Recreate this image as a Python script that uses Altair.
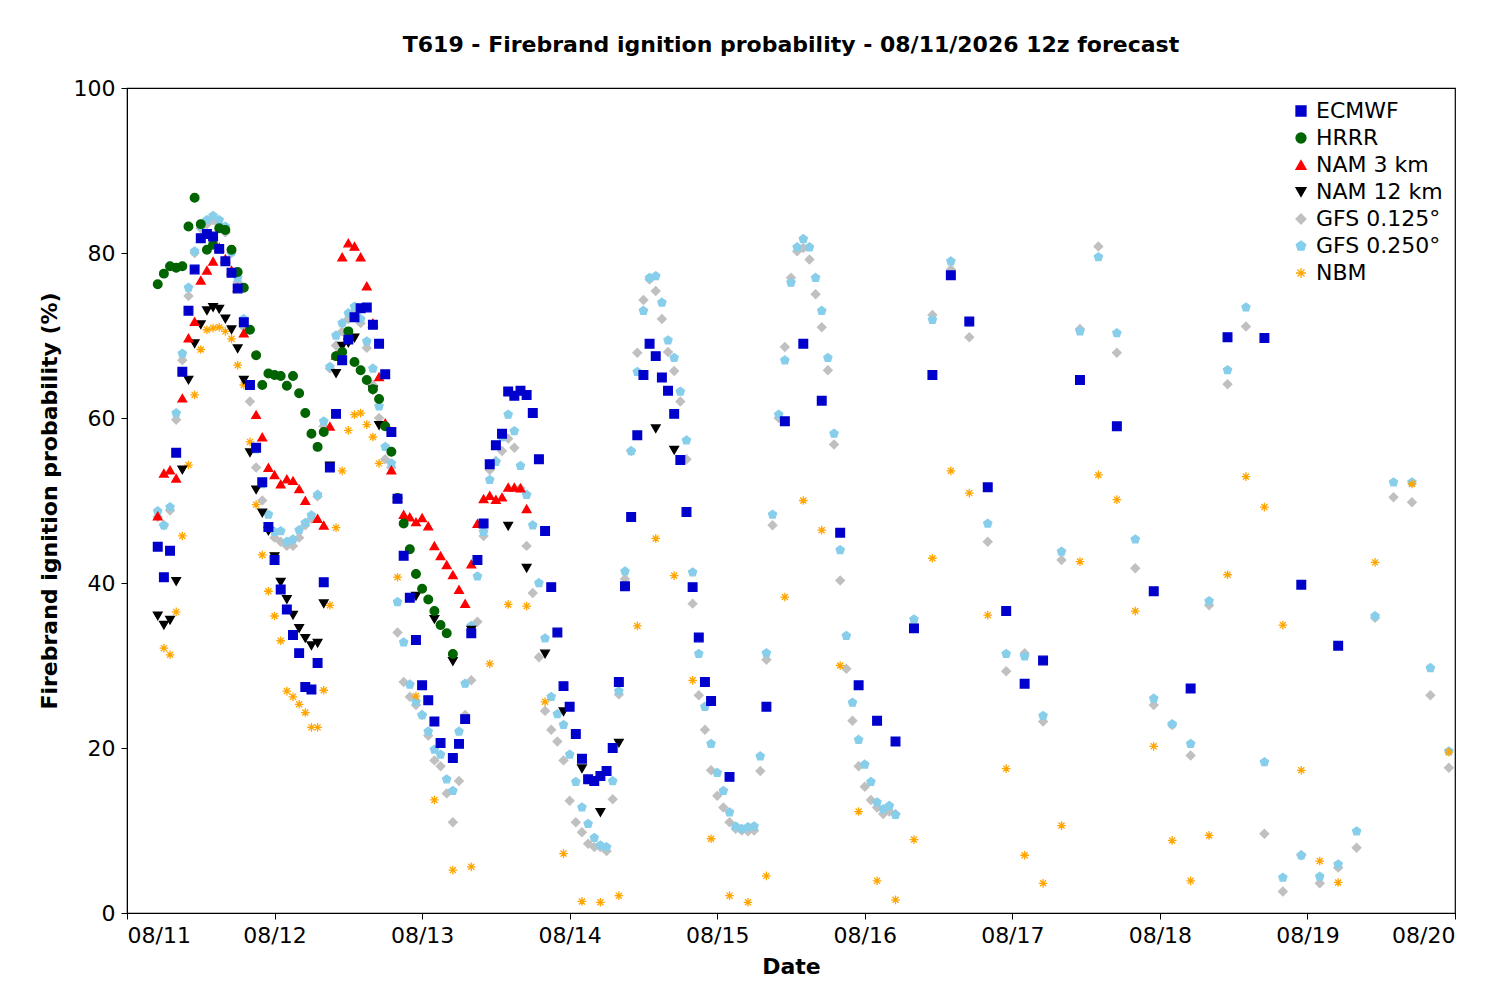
import altair as alt
import pandas as pd

series_names = ["ECMWF", "HRRR", "NAM 3 km", "NAM 12 km", "GFS 0.125°", "GFS 0.250°", "NBM"]
colors = ["#0000cc", "#006400", "#ff0000", "#000000", "#c0c0c0", "#87ceeb", "#ffa500"]
pentagon = "M0,-1L0.951,-0.309L0.588,0.809L-0.588,0.809L-0.951,-0.309Z"
asterisk = "M0,-1L0,1M-1,0L1,0M-0.7,-0.7L0.7,0.7M-0.7,0.7L0.7,-0.7"
shapes = ["square", "circle", "triangle-up", "triangle-down", "diamond", pentagon, asterisk]
day_labels = ["08/11", "08/12", "08/13", "08/14", "08/15", "08/16", "08/17", "08/18", "08/19", "08/20"]

# ECMWF: hours and values
ecmwf_h = list(range(5, 52)) + list(range(53, 96)) + [98, 104, 107, 110, 113, 116, 119, 122, 125, 128, 131, 134, 137, 140, 143, 146, 149, 155, 161, 167, 173, 179, 185, 191, 197]
ecmwf_v = [44.4, 40.7, 43.9, 55.8, 65.6, 73, 78, 81.8, 82.3, 82, 80.5, 79, 77.6, 75.7, 71.6,
           64, 56.4, 52.2, 46.8, 42.8, 39.2, 36.8, 33.7, 31.5, 27.4, 27.1, 30.3, 40.1, 54, 60.5, 67, 69.5, 72.2, 73.3, 73.4, 71.3, 69, 65.3, 58.3, 50.2, 43.3,
           38.2, 33.1, 27.6, 25.8, 23.2, 20.6,
           18.8, 20.5, 23.5, 33.9, 42.8, 47.2, 54.4, 56.7, 58.1, 63.2, 62.7, 63.3, 62.8, 60.6, 55, 46.3, 39.5, 34, 27.5, 25, 21.7, 18.7, 16.2, 16, 16.6, 17.2, 20, 28, 39.6, 48, 57.9, 65.2, 69, 67.5, 64.9, 63.3, 60.5, 54.9, 48.6, 39.5, 33.4, 28, 25.7,
           16.5, 25, 59.6, 69, 62.1, 46.1, 27.6, 23.3, 20.8, 34.5, 65.2, 77.3, 71.7, 51.6, 36.6, 27.8, 30.6, 64.6, 59, 39, 27.2, 69.8, 69.7, 39.8, 32.4]

hrrr_h = list(range(5, 33)) + list(range(34, 54))
hrrr_v = [76.2, 77.5, 78.4, 78.2, 78.4, 83.2, 86.7, 83.5, 80.4, 81, 83, 82.8, 80.4, 77.7, 75.8, 70.7, 67.6, 64, 65.4, 65.2, 65.1, 63.9, 65.1, 63, 60.6, 58.1, 56.5, 58.3,
          67.5, 68, 70.5, 66.8, 65.8, 64.6, 63.5, 62.3, 59, 55.9, 50.3, 47.2, 44.1, 41.1, 39.3, 38, 36.6, 34.9, 33.9, 31.4]

nam3_h = list(range(5, 20)) + list(range(21, 30)) + list(range(31, 66))
nam3_v = [48.1, 53.3, 53.7, 52.7, 62.4, 69.7, 71.7, 76.7, 77.9, 79, 80.7, 79.3, 77.9, 75.8, 70.3,
          60.4, 57.7, 54, 53.1, 52, 52.6, 52.4, 51.4, 50,
          47.8, 47, 59, 67.6, 79.5, 81.2, 80.8, 79.5, 76, 71.5, 65, 59.4, 53.7, 50.3,
          48.3, 48, 47.4, 47.9, 46.9, 44.5, 43.3, 42.2, 41, 39.2, 37.5, 42.3, 47.2, 50.2, 50.6, 50.1, 50.4, 51.6, 51.6, 51.5, 49]

nam12_h = list(range(5, 38)) + [40, 41, 47, 50, 53, 56, 62, 65, 68, 71, 74, 77, 80, 86, 89]
nam12_v = [36, 34.9, 35.5, 40.2, 53.7, 64.6, 69, 71.3, 73, 73.4, 73.2, 72, 70.7, 68.4, 64.6, 55.8, 51.3, 48.5, 46.3, 43.2, 40.1, 38, 36.1, 34.5, 33.3, 32.4, 32.7, 37.5, 54.2, 65.4, 68.7, 69.1, 69.7,
           63.4, 59.1, 38.4, 35.6, 30.5, 34.3, 46.9, 41.8, 31.4, 24.4, 17.5, 12.2, 20.6, 58.7, 56.1]

gfs_h = list(range(5, 126)) + list(range(128, 216, 3))
gfs125_v = [48, 47, 48.8, 59.8, 67, 74.8, 80, 83, 83.5, 84, 83.5, 82.5, 80, 76.5, 71, 62, 54, 50, 46.5, 45.5, 45, 44.5, 44.5, 45.5, 47, 47.8, 50.5, 59, 66, 68.8,
            70.5, 72, 72.8, 71.5, 68.5, 64, 60, 55, 54, 34, 28, 26.2, 25.2, 24, 21.5, 18.5, 17.8, 14.5, 11, 16, 24, 28.2, 35.3, 45.7, 53.7, 54.8, 56, 57.5, 56.4, 51.5,
            44.5, 38.8, 31, 24.5, 22.2, 20.8, 18.5, 13.6, 11, 9.8, 8.4, 8, 8, 7.5, 13.8, 26.5, 40.5, 56, 67.9, 74.3, 76.8, 75.4, 72, 68, 65.7, 62, 55, 37.5, 26.4, 22.2,
            17.3, 14.2, 12.8, 11, 10.2, 10, 9.9, 10, 17.2, 30.7, 47, 60, 68.6, 77, 80.2, 80.6, 79.2, 75, 71, 65.8, 56.8, 40.3, 29.6, 23.3, 17.8, 15.3, 13.7, 12.8, 12, 12.3, 12,
            35, 72.5, 78, 69.8, 45, 29.3, 31.5, 23.2, 42.8, 70.8, 80.8, 67.9, 41.8, 25.2, 22.8, 19.1, 37.3, 64.1, 71.1, 9.6, 2.6, 7, 3.6, 5.5, 7.9, 35.8, 50.4, 49.8, 26.4, 17.6]
gfs250_v = [48.7, 47, 49.2, 60.6, 67.8, 75.8, 80.2, 83.3, 84, 84.5, 84, 83.2, 80.1, 77, 72, 64, 56.2, 52, 48.3, 46.2, 46.3, 45, 45.3, 46.4, 47.3, 48.2, 50.7, 59.6, 66.2, 70,
            71.5, 72.7, 73.5, 72, 69.3, 66, 61.4, 56.5, 54.5, 37.7, 32.8, 27.7, 25.6, 24, 22, 19.8, 19.2, 16.2, 14.8, 22, 27.8, 34.8, 40.8, 46.2, 52.5, 54.7, 57.7, 60.4, 58.4, 54.2,
            50.7, 47, 40, 33.3, 26.2, 24.1, 22.8, 19.2, 15.9, 12.8, 10.8, 9.1, 8.2, 8, 16, 26.9, 41.4, 56, 65.6, 73, 77, 77.2, 74, 69.4, 67.3, 63.2, 57.3, 41.3, 31.4, 25,
            20.5, 17, 14.8, 12.2, 10.5, 10.2, 10.4, 10.5, 19, 31.5, 48.3, 60.4, 67, 76.4, 80.7, 81.7, 80.7, 77, 73, 67.3, 58.1, 44, 33.6, 25.5, 21, 18, 15.9, 13.4, 12.6, 13, 11.9,
            35.6, 71.9, 79, 71.6, 47.2, 31.4, 31.1, 23.9, 43.8, 70.5, 79.5, 70.3, 45.3, 26, 22.9, 20.5, 37.8, 65.8, 73.4, 18.3, 4.3, 7, 4.4, 5.9, 9.9, 36, 52.2, 52.2, 29.7, 19.6]

nbm_h = list(range(6, 42)) + [44, 47, 50, 53, 56, 59, 62, 65, 68, 71, 74, 77, 80, 83, 86, 89, 92, 95, 98, 101, 104, 107, 110, 113, 116, 119, 122, 125, 128, 131, 134,
                              137, 140, 143, 146, 149, 152, 155, 158, 161, 164, 167, 170, 173, 176, 179, 182, 185, 188, 191, 194, 197, 203, 209, 215]
nbm_v = [32.1, 31.3, 36.5, 45.7, 54.3, 62.8, 68.3, 70.7, 70.9, 71, 70.5, 69.6, 66.4, 64, 57.1, 49.5, 43.4, 39, 36, 33, 26.9, 26.2, 25.3, 24.3, 22.5, 22.5, 27, 37.3,
         46.7, 53.6, 58.5, 60.4, 60.6, 59.2, 57.7, 54.5,
         40.7, 26.3, 13.7, 5.2, 5.6, 30.2, 37.4, 37.2, 25.6, 7.2, 1.4, 1.3, 2.1, 34.8, 45.4, 40.9, 28.2, 9, 2.1, 1.3, 4.5, 38.3, 50, 46.4, 30, 12.3, 3.9, 1.6,
         8.9, 43, 53.6, 50.9, 36.1, 17.5, 7, 3.6, 10.6, 42.6, 53.1, 50.1, 36.6, 20.2, 8.8, 3.9, 9.4, 41, 52.9, 49.2, 34.9, 17.3, 6.3, 3.7, 42.5, 52, 19.5]

frames = []
for name, hs, vs in [
    ("GFS 0.125°", gfs_h, gfs125_v),
    ("GFS 0.250°", gfs_h, gfs250_v),
    ("NBM", nbm_h, nbm_v),
    ("NAM 12 km", nam12_h, nam12_v),
    ("NAM 3 km", nam3_h, nam3_v),
    ("HRRR", hrrr_h, hrrr_v),
    ("ECMWF", ecmwf_h, ecmwf_v),
]:
    n = min(len(hs), len(vs))
    frames.append(pd.DataFrame({"hour": hs[:n], "prob": vs[:n], "series": name}))
df = pd.concat(frames, ignore_index=True)
order_map = {"GFS 0.125°": 0, "GFS 0.250°": 1, "NBM": 2, "NAM 12 km": 3, "NAM 3 km": 4, "HRRR": 5, "ECMWF": 6}
df["z"] = df["series"].map(order_map)

label_expr = "[" + ",".join("'" + d + "'" for d in day_labels) + "][round(datum.value/24)]"
font = "DejaVu Sans"

scale_c = alt.Scale(domain=series_names, range=colors)
chart = alt.Chart(df).mark_point(filled=True, size=75, strokeWidth=1.3, opacity=1).encode(
    x=alt.X("hour:Q", scale=alt.Scale(domain=[0, 216], nice=False),
            axis=alt.Axis(values=list(range(0, 217, 24)), labelExpr=label_expr, title="Date", grid=False)),
    y=alt.Y("prob:Q", scale=alt.Scale(domain=[0, 100]),
            axis=alt.Axis(values=list(range(0, 101, 20)), title="Firebrand ignition probability (%)", grid=False)),
    color=alt.Color("series:N", scale=scale_c, sort=series_names,
                    legend=alt.Legend(title=None, orient="top-right", labelFontSize=22, symbolSize=100,
                                      rowPadding=5, labelFont=font, offset=12, symbolStrokeWidth=1.3)),
    stroke=alt.Stroke("series:N", scale=scale_c, sort=series_names, legend=None),
    shape=alt.Shape("series:N", scale=alt.Scale(domain=series_names, range=shapes), sort=series_names),
    order=alt.Order("z:Q"),
).properties(
    width=1328, height=825,
    padding={"left": 30, "top": 26, "right": 5, "bottom": 5},
    title=alt.TitleParams("T619 - Firebrand ignition probability - 08/11/2026 12z forecast",
                          fontSize=22, font=font, fontWeight="bold", offset=20),
).configure_view(stroke="black", strokeWidth=1.2).configure_axis(
    labelFont=font, labelFontSize=22, titleFont=font, titleFontSize=22, titleFontWeight="bold",
    domainColor="black", tickColor="black", labelColor="black", tickSize=6, labelPadding=6,
).configure_axisY(titlePadding=12).configure_axisX(titlePadding=10)

chart.save("out.html", embed_options={"renderer": "svg", "actions": False})
